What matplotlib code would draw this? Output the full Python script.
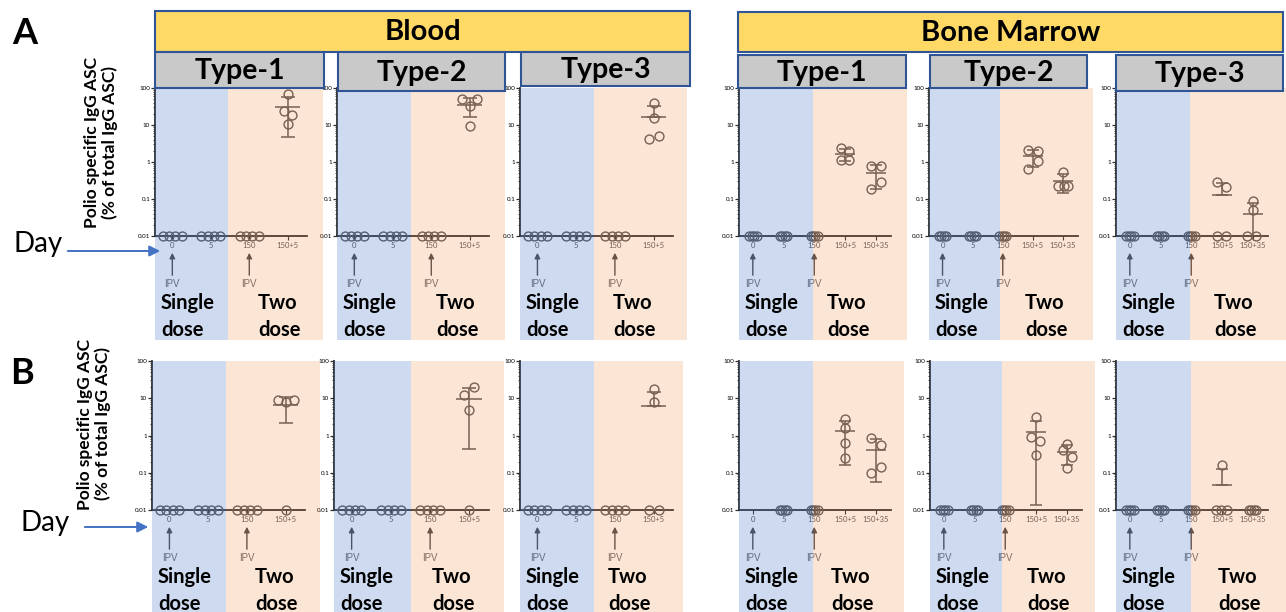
import numpy as np
import matplotlib.pyplot as plt
from matplotlib.patches import Rectangle, FancyArrowPatch
from matplotlib.ticker import LogLocator, NullFormatter

plt.rcParams['font.family'] = ['Lato', 'DejaVu Sans']

# ---- data: % polio specific IgG ASC, 4 animals per day (0.01 = not detected)
days_blood = ['0', '5', '150', '150+5']
days_bm = ['0', '5', '150', '150+5', '150+35']
ytick_vals = [0.01, 0.1, 1, 10, 100]
ytick_labels = ['0.01', '0.1', '1', '10', '100']
serotypes = ['Type-1', 'Type-2', 'Type-3']
tissues = ['Blood', 'Bone Marrow']

blood_A1 = [[0.01, 0.01, 0.01, 0.01], [0.01, 0.01, 0.01, 0.01], [0.01, 0.01, 0.01, 0.01], [68, 24.5, 18.6, 10.5]]
blood_A2 = [[0.01, 0.01, 0.01, 0.01], [0.01, 0.01, 0.01, 0.01], [0.01, 0.01, 0.01, 0.01], [50, 50, 33, 9.4]]
blood_A3 = [[0.01, 0.01, 0.01, 0.01], [0.01, 0.01, 0.01, 0.01], [0.01, 0.01, 0.01, 0.01], [40, 15.2, 4.1, 5.0]]
bm_A1 = [[0.01, 0.01, 0.01, 0.01], [0.01, 0.01, 0.01, 0.01], [0.01, 0.01, 0.01, 0.01],
         [2.35, 2.03, 1.13, 1.13], [0.79, 0.79, 0.29, 0.185]]
bm_A2 = [[0.01, 0.01, 0.01, 0.01], [0.01, 0.01, 0.01, 0.01], [0.01, 0.01, 0.01, 0.01],
         [2.16, 1.95, 1.08, 0.645], [0.545, 0.224, 0.224, 0.224]]
bm_A3 = [[0.01, 0.01, 0.01, 0.01], [0.01, 0.01, 0.01, 0.01], [0.01, 0.01, 0.01, 0.01],
         [0.28, 0.21, 0.01, 0.01], [0.089, 0.052, 0.01, 0.01]]

blood_B1 = [[0.01, 0.01, 0.01, 0.01], [0.01, 0.01, 0.01, 0.01], [0.01, 0.01, 0.01, 0.01], [9.0, 8.1, 9.0, 0.01]]
blood_B2 = [[0.01, 0.01, 0.01, 0.01], [0.01, 0.01, 0.01, 0.01], [0.01, 0.01, 0.01, 0.01], [20.6, 12, 4.9, 0.01]]
blood_B3 = [[0.01, 0.01, 0.01, 0.01], [0.01, 0.01, 0.01, 0.01], [0.01, 0.01, 0.01, 0.01], [17.5, 7.9, 0.01, 0.01]]
bm_B1 = [[], [0.01, 0.01, 0.01, 0.01], [0.01, 0.01, 0.01, 0.01],
         [2.86, 1.58, 0.63, 0.245], [0.865, 0.569, 0.145, 0.1]]
bm_B2 = [[0.01, 0.01, 0.01, 0.01], [0.01, 0.01, 0.01, 0.01], [0.01, 0.01, 0.01, 0.01],
         [3.1, 0.93, 0.73, 0.30], [0.575, 0.42, 0.27, 0.137]]
bm_B3 = [[0.01, 0.01, 0.01, 0.01], [0.01, 0.01, 0.01, 0.01], [0.01, 0.01, 0.01, 0.01],
         [0.16, 0.01, 0.01, 0.01], [0.01, 0.01, 0.01, 0.01]]

# horizontal scatter of the dots (None = default spread)
jit_blood = [-0.25, -0.08, 0.08, 0.25]
jit_bm = [-0.12, -0.04, 0.04, 0.12]
jit_A = [[None, None, None, [0, -0.11, 0.12, 0]],
         [None, None, None, [-0.21, 0.2, 0, 0]],
         [None, None, None, [0, 0, -0.11, 0.13]],
         [None, None, None, [-0.14, 0.14, -0.14, 0.14], [-0.14, 0.17, 0.17, -0.14]],
         [None, None, None, [-0.17, 0.16, 0.16, -0.17], [0, -0.17, 0.03, 0.18]],
         [None, None, None, [-0.17, 0.13, -0.17, 0.13], [0, 0, -0.17, 0.11]]]
jit_B = [[None, None, None, [-0.2, 0, 0.22, 0]],
         [None, None, None, [0.11, -0.13, 0, 0]],
         [None, None, None, [0, 0, -0.13, 0.13]],
         [None, None, None, [0, 0, 0, 0], [-0.14, 0.17, 0.17, -0.14]],
         [None, None, None, [0, -0.17, 0.14, 0], [0, -0.13, 0.17, 0]],
         [None, None, None, [0, -0.19, -0.04, 0.17], None]]

# ---- layout in pixels
W, H = 1286, 612
fig = plt.figure(figsize=(W / 100, H / 100), dpi=100)

def fx(x):
    return x / W

def fy(y):
    return 1 - y / H

# (axis left, axis right, blue/peach split, background right, "Two dose" offset)
geo_A = [(155, 307, 228, 323, 30), (337, 489, 411, 505, 25), (520, 673, 594, 687, 19),
         (739, 891, 813, 907, 14), (929, 1078, 1000, 1093, 25), (1116, 1268, 1190, 1286, 24)]
geo_B = [(152, 305, 226, 320, 29), (334, 489, 411, 504, 21), (520, 673, 594, 683, 14),
         (739, 891, 813, 904, 18), (930, 1082, 1002, 1095, 25), (1116, 1268, 1191, 1286, 27)]
rows_y = [(88, 236, 340), (361, 510, 612)]  # top (100), 0.01 line, background bottom

dot_c = '#5a5a5a'
ax_c = '#2e2e2e'

def draw_panel(geo, yy, vals, jits, days, bm):
    x0, x1, split, right, toff = geo
    ytop, ybase, ybot = yy
    ax = fig.add_axes([fx(x0), fy(ybase), fx(x1 - x0), (ybase - ytop) / H])
    ax.set_facecolor('none')
    n = len(days)
    ax.set_yscale('log')
    ax.set_ylim(0.01, 100)
    ax.set_xlim(-0.45, n - 0.5)
    for s in ['top', 'right']:
        ax.spines[s].set_visible(False)
    for s in ['left', 'bottom']:
        ax.spines[s].set_color(ax_c)
        ax.spines[s].set_linewidth(1.3)
    ax.set_yticks(ytick_vals)
    ax.set_yticklabels(ytick_labels)
    ax.yaxis.set_minor_locator(LogLocator(base=10, subs=np.arange(2, 10)))
    ax.yaxis.set_minor_formatter(NullFormatter())
    ax.tick_params(axis='y', which='major', length=3, width=0.9, labelsize=4.5, pad=0.5, color=ax_c)
    ax.tick_params(axis='y', which='minor', length=1.8, width=0.6, color=ax_c)
    ax.set_xticks(range(n))
    ax.set_xticklabels(days)
    ax.tick_params(axis='x', length=3, width=0.8, labelsize=5.5, labelcolor='#555555', pad=1.5, color=ax_c)

    base = jit_bm if bm else jit_blood
    cap = 4 if bm else 5
    for i, g in enumerate(vals):
        if len(g) == 0:
            continue
        jit = jits[i] if jits[i] is not None else base
        ax.plot(i + np.array(jit), g, 'o', mfc='none', mec=dot_c, ms=6.4, mew=1.0,
                clip_on=False, zorder=4)
        if max(g) > 0.01:
            m = np.mean(g)
            sd = np.std(g, ddof=1)
            lo = sd if m - sd > 0 else 0
            ax.errorbar(i, m, yerr=[[lo], [sd]], fmt='none', ecolor=dot_c, elinewidth=1.1,
                        capsize=cap, capthick=1.1, zorder=3)
            ax.hlines(m, i - 0.33, i + 0.33, color=dot_c, lw=1.1, zorder=3)

    # IPV arrows at day 0 and day 150
    hpx = ybase - ytop
    for k in [0, 2]:
        ax.annotate('', xy=(k, -14 / hpx), xytext=(k, -42 / hpx),
                    xycoords=ax.get_xaxis_transform(), textcoords=ax.get_xaxis_transform(),
                    arrowprops=dict(arrowstyle='-|>', color='#4a4a4a', lw=1.0, mutation_scale=8),
                    annotation_clip=False)
        ax.text(k, -48 / hpx, 'IPV', transform=ax.get_xaxis_transform(), ha='center', va='center',
                fontsize=7, color='#6a6a6a', family=['Liberation Sans', 'DejaVu Sans'])

    # translucent dose backgrounds laid over the graph
    fig.add_artist(Rectangle((fx(x0), fy(ybot)), fx(split - x0), (ybot - ytop) / H,
                             transform=fig.transFigure, facecolor='#4472C4', alpha=0.26,
                             edgecolor='none', zorder=2))
    fig.add_artist(Rectangle((fx(split), fy(ybot)), fx(right - split), (ybot - ytop) / H,
                             transform=fig.transFigure, facecolor='#ED7D31', alpha=0.2,
                             edgecolor='none', zorder=2))
    for word, dy in [('Single', 67), ('dose', 94)]:
        fig.text(fx(x0 + 6), fy(ybase + dy), word, ha='left', va='center', fontsize=14.5,
                 fontweight='bold', zorder=3)
    for word, dy in [('Two', 67), ('dose', 94)]:
        fig.text(fx(split + toff), fy(ybase + dy), word, ha='left', va='center', fontsize=14.5,
                 fontweight='bold', zorder=3)
    return ax

panels_A = [blood_A1, blood_A2, blood_A3, bm_A1, bm_A2, bm_A3]
panels_B = [blood_B1, blood_B2, blood_B3, bm_B1, bm_B2, bm_B3]
for r, (panels, jits, geos) in enumerate([(panels_A, jit_A, geo_A), (panels_B, jit_B, geo_B)]):
    for p in range(6):
        days = days_blood if p < 3 else days_bm
        draw_panel(geos[p], rows_y[r], panels[p], jits[p], days, p >= 3)

# ---- header boxes
def box(x0, y0, x1, y1, color, label, size):
    fig.add_artist(Rectangle((fx(x0), fy(y1)), fx(x1 - x0), (y1 - y0) / H,
                             transform=fig.transFigure, facecolor=color, edgecolor='#2F5597',
                             lw=1.5, zorder=3))
    fig.text(fx((x0 + x1) / 2), fy((y0 + y1) / 2 + 1), label, ha='center', va='center',
             fontsize=size, fontweight='bold', zorder=4)

box(155, 11, 690, 52, '#FFD966', tissues[0], 21)
box(738, 12, 1283, 52, '#FFD966', tissues[1], 21)
type_boxes = [(155, 52, 324, 88), (338, 52, 505, 91), (521, 52, 690, 86),
              (738, 55, 906, 88), (930, 55, 1087, 88), (1116, 55, 1283, 91)]
for k, (a, b, c, d) in enumerate(type_boxes):
    box(a, b, c, d, '#C9C9C9', serotypes[k % 3], 20.5)

# ---- panel letters, y labels, "Day" arrows
fig.text(fx(25), fy(34), 'A', ha='center', va='center', fontsize=26, fontweight='bold')
fig.text(fx(22), fy(373), 'B', ha='center', va='center', fontsize=26, fontweight='bold')
ylab = 'Polio specific IgG ASC\n(% of total IgG ASC)'
fig.text(fx(101), fy(142), ylab, rotation=90, ha='center', va='center', fontsize=12.5,
         fontweight='bold', multialignment='center', linespacing=1.1)
fig.text(fx(94), fy(424), ylab, rotation=90, ha='center', va='center', fontsize=12.5,
         fontweight='bold', multialignment='center', linespacing=1.1)
fig.text(fx(38), fy(244), 'Day', ha='center', va='center', fontsize=20)
fig.text(fx(45), fy(523), 'Day', ha='center', va='center', fontsize=20)
for xa, xb, ya in [(65, 163, 251), (82, 151, 527)]:
    fig.add_artist(FancyArrowPatch((fx(xa), fy(ya)), (fx(xb), fy(ya)), transform=fig.transFigure,
                                   arrowstyle='-|>', mutation_scale=16, color='#4472C4', lw=1.4))

fig.savefig('out.png', dpi=100)
